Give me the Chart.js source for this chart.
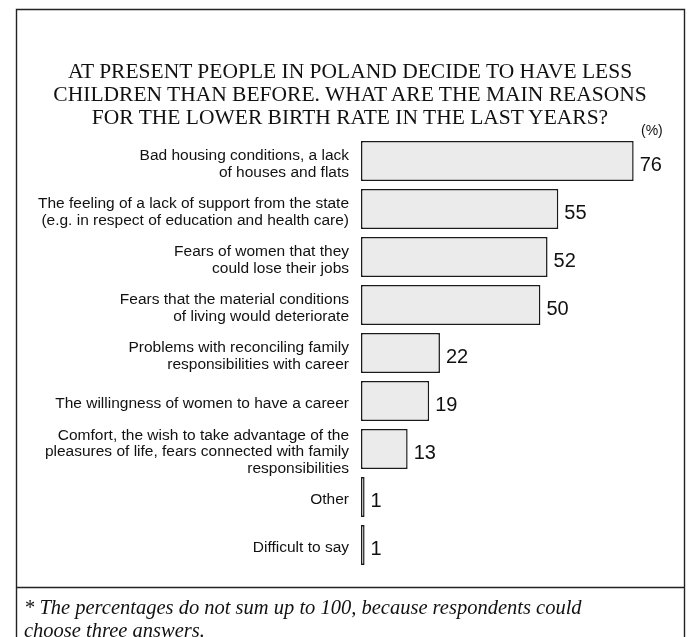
<!DOCTYPE html>
<html>
<head>
<meta charset="utf-8">
<script src="https://cdn.jsdelivr.net/npm/chart.js@4.4.1/dist/chart.umd.min.js"></script>
<style>
  html, body { margin: 0; padding: 0; background: #fff; }
  #wrap { position: relative; width: 691px; height: 637px; overflow: hidden; }
  #c { position: absolute; left: 0; top: 0; }
  #title { position: absolute; left: 0px; width: 700px; top: 60px; text-align: center;
           font-family: "Liberation Serif", "Times New Roman", serif; font-size: 21.5px; line-height: 23px; color: #111; }
  #note { position: absolute; left: 24px; top: 596px; width: 660px; white-space: nowrap;
          font-family: "Liberation Serif", "Times New Roman", serif; font-style: italic; font-size: 20.5px; line-height: 23px; color: #111; }
</style>
</head>
<body>
<div id="wrap">
  <canvas id="c" width="691" height="637"></canvas>
  <div id="title">AT PRESENT PEOPLE IN POLAND DECIDE TO HAVE LESS<br>CHILDREN THAN BEFORE. WHAT ARE THE MAIN REASONS<br>FOR THE LOWER BIRTH RATE IN THE LAST YEARS?</div>
  <div id="note">* The percentages do not sum up to 100, because respondents could<br>choose three answers.</div>
</div>
<script>
const categories = [
  ["Bad housing conditions, a lack", "of houses and flats"],
  ["The feeling of a lack of support from the state", "(e.g. in respect of education and health care)"],
  ["Fears of women that they", "could lose their jobs"],
  ["Fears that the material conditions", "of living would deteriorate"],
  ["Problems with reconciling family", "responsibilities with career"],
  "The willingness of women to have a career",
  ["Comfort, the wish to take advantage of the", "pleasures of life, fears connected with family", "responsibilities"],
  "Other",
  "Difficult to say"
];
const values = [76, 55, 52, 50, 22, 19, 13, 1, 1];
const unitLabel = "(%)";

const framePlugin = {
  id: 'frame',
  beforeDraw(chart) {
    const ctx = chart.ctx;
    ctx.save();
    ctx.strokeStyle = '#222';
    ctx.lineWidth = 1.4;
    ctx.beginPath();
    ctx.moveTo(16.5, 640); ctx.lineTo(16.5, 9.5); ctx.lineTo(684.5, 9.5); ctx.lineTo(684.5, 640);
    ctx.moveTo(16.5, 587.5); ctx.lineTo(684.5, 587.5);
    ctx.stroke();
    ctx.restore();
  },
  afterDatasetsDraw(chart) {
    const ctx = chart.ctx;
    const meta = chart.getDatasetMeta(0);
    ctx.save();
    ctx.fillStyle = '#111';
    ctx.font = '20px "Liberation Sans", Arial, sans-serif';
    ctx.textAlign = 'left';
    ctx.textBaseline = 'middle';
    meta.data.forEach((bar, i) => {
      ctx.fillText(String(values[i]), bar.x + 6, bar.y + 4);
    });
    ctx.font = '14px "Liberation Sans", Arial, sans-serif';
    ctx.textAlign = 'left';
    ctx.textBaseline = 'alphabetic';
    ctx.fillText(unitLabel, 641, 135);
    ctx.restore();
  }
};

new Chart(document.getElementById('c'), {
  type: 'bar',
  data: {
    labels: categories,
    datasets: [{
      data: values,
      backgroundColor: '#ebebeb',
      borderColor: '#1a1a1a',
      borderWidth: 1.5,
      borderSkipped: false,
      categoryPercentage: 1,
      barPercentage: 0.835
    }]
  },
  options: {
    indexAxis: 'y',
    responsive: false,
    animation: false,
    events: [],
    layout: { padding: { left: 0, top: 137, bottom: 68, right: 43 } },
    plugins: { legend: { display: false }, tooltip: { enabled: false }, title: { display: false } },
    scales: {
      x: { min: 0, max: 80, display: false },
      y: {
        grid: { display: false, drawTicks: false },
        border: { display: false },
        ticks: {
          autoSkip: false,
          color: '#111',
          padding: 12,
          labelOffset: 3,
          font: { family: '"Liberation Sans", Arial, sans-serif', size: 15.5, lineHeight: 1.08 }
        },
        afterFit(scale) { scale.width = 361; }
      }
    }
  },
  plugins: [framePlugin]
});
</script>
</body>
</html>
